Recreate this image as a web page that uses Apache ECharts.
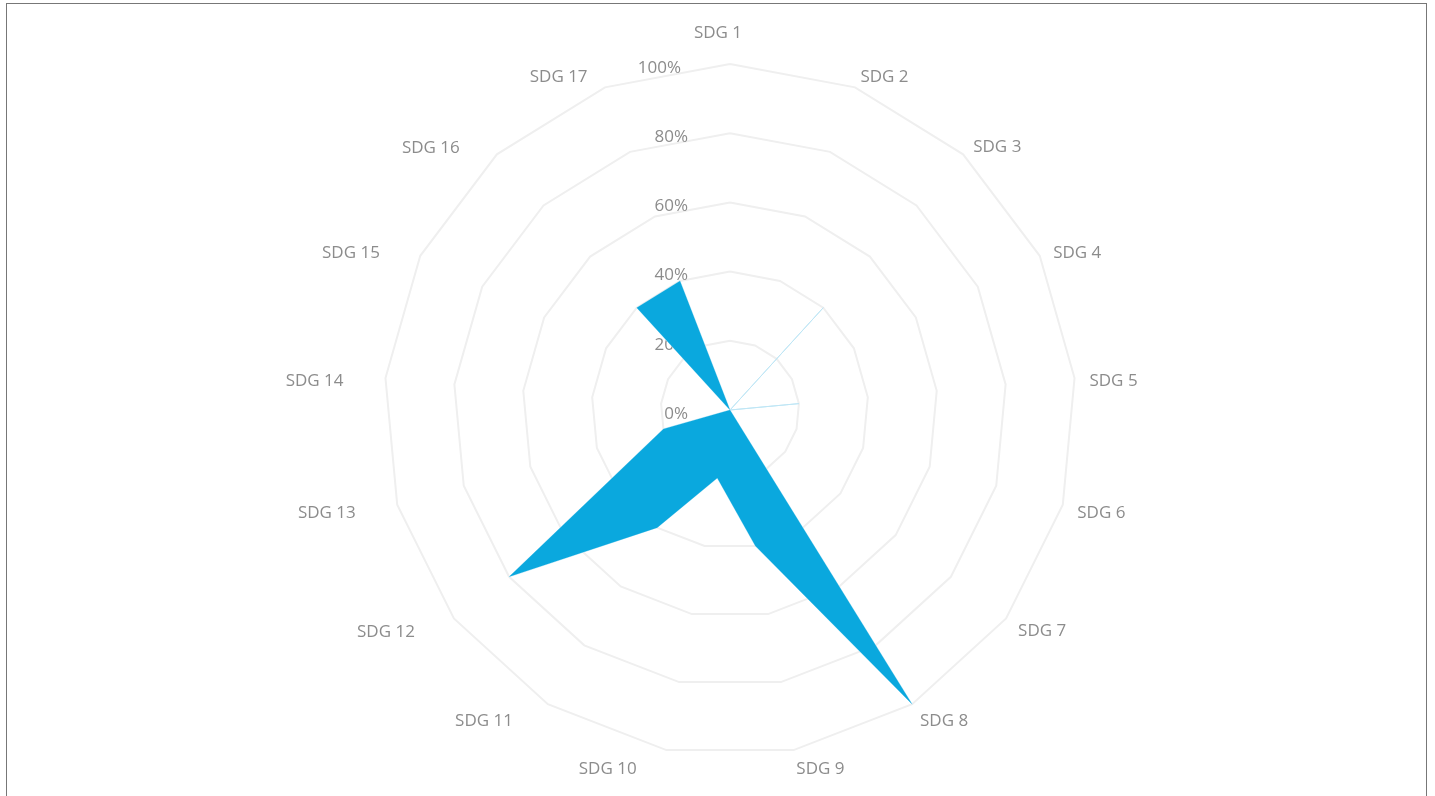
<!DOCTYPE html>
<html>
<head>
<meta charset="utf-8">
<script src="https://cdn.jsdelivr.net/npm/echarts@6/dist/echarts.min.js"></script>
<style>
  html, body { margin: 0; padding: 0; background: #fff; overflow: hidden; }
  #chart { position: absolute; left: 0; top: 0; width: 1435px; height: 796px; }
  #frame { position: absolute; left: 6px; top: 3px; width: 1421px; height: 820px; border: 1px solid #777; box-sizing: border-box; pointer-events: none; }
</style>
</head>
<body>
<div id="chart"></div>
<div id="frame"></div>
<script>
// SDG goals in clockwise order from top
const categories = ['SDG 1','SDG 2','SDG 3','SDG 4','SDG 5','SDG 6','SDG 7','SDG 8','SDG 9',
  'SDG 10','SDG 11','SDG 12','SDG 13','SDG 14','SDG 15','SDG 16','SDG 17'];
// share (%) per goal
const values = [0, 0, 40, 0, 20, 0, 0, 100, 40, 20, 40, 80, 20, 0, 0, 40, 40];
const axisMax = 100;
const tickLabelSuffix = '%';

// ECharts radar runs counter-clockwise: keep first item, reverse the rest
const order = [0].concat(categories.map((_, i) => i).slice(1).reverse());
const textColor = '#8c8c8c';
const font = 'Open Sans';
const fs = 17;

const base = { color: textColor, fontSize: fs, fontFamily: font };
const indicator = order.map((i, k) => {
  const ind = { name: categories[i], max: axisMax, min: 0 };
  if (k === 0) {
    ind.axisLabel = {
      show: true, margin: 42,
      formatter: v => (v === axisMax ? '{w|' : '{p|') + v + tickLabelSuffix + '}',
      rich: {
        p: Object.assign({ padding: [8, 0, 0, 0] }, base),
        w: Object.assign({ padding: [8, 7, 0, 0] }, base)
      }
    };
  }
  return ind;
});

function nameStyle(name) {
  const idx = categories.indexOf(name);
  if (idx === 0) return 'top';
  if (idx === 16) return 'l17';
  if (idx >= 9) return 'left';
  return 'right';
}

const chart = echarts.init(document.getElementById('chart'));
chart.setOption({
  animation: false,
  radar: {
    center: [730, 410],
    radius: 346,
    startAngle: 90,
    splitNumber: 5,
    indicator: indicator,
    axisName: {
      color: textColor, fontSize: fs, fontFamily: font,
      formatter: name => '{' + nameStyle(name) + '|' + name + '}',
      rich: {
        top: Object.assign({ padding: [0, 24, 7, 0] }, base),
        right: Object.assign({ padding: [8, 0, 0, 0] }, base),
        left: Object.assign({ padding: [9, 27, 0, 0] }, base),
        l17: Object.assign({ padding: [8, 12, 0, 0] }, base)
      }
    },
    nameGap: 15,
    axisLine: { show: false },
    axisTick: { show: false },
    axisLabel: { show: false },
    splitArea: { show: false },
    splitLine: { lineStyle: { color: '#efefef', width: 2 } }
  },
  series: [{
    type: 'radar',
    symbol: 'none',
    lineStyle: { color: '#bfe6f5', width: 1 },
    areaStyle: { color: '#0aa8de', opacity: 1 },
    data: [{ value: order.map(i => values[i]) }]
  }]
});
</script>
</body>
</html>
